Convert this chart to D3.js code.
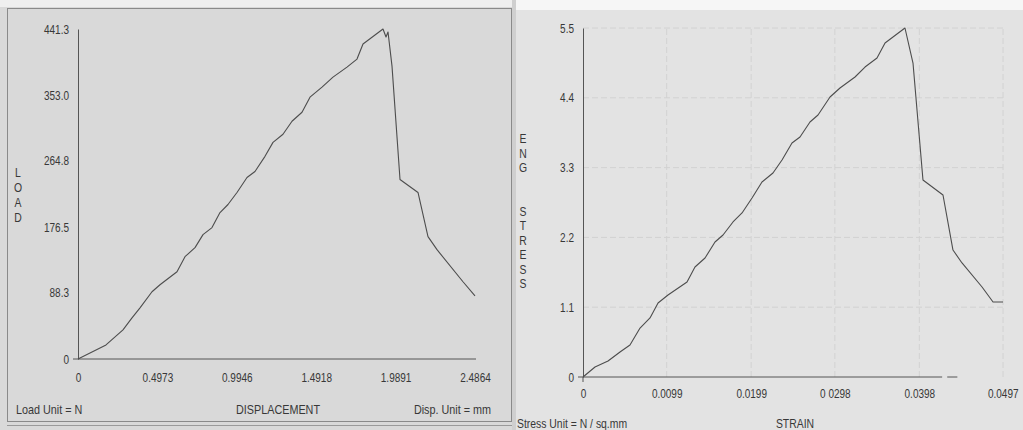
<!DOCTYPE html>
<meta charset="utf-8">
<title>Load - displacement and stress - strain</title>
<style>
    body {
        margin: 0;
        background: #e2e2e2;
    }

    svg text {
        font-family: "Liberation Sans", Arial, sans-serif;
        fill: #383838;
    }

    .curve {
        fill: none;
        stroke: #4d4d4d;
        stroke-width: 1.1;
        stroke-linejoin: round;
    }

    .axis path {
        stroke: #555;
    }

    .grid {
        stroke: #d2d2d2;
        stroke-dasharray: 6 3;
    }
</style>

<body>
    <div id="chart"></div>

    <script src="https://cdn.jsdelivr.net/npm/d3@7"></script>
    <script>
        // tick values and labels as printed on the sheet
        var dispTicks = [0, 0.4973, 0.9946, 1.4918, 1.9891, 2.4864];
        var dispLabels = ["0", "0.4973", "0.9946", "1.4918", "1.9891", "2.4864"];
        var loadTicks = [0, 88.3, 176.5, 264.8, 353.0, 441.3];
        var loadLabels = ["0", "88.3", "176.5", "264.8", "353.0", "441.3"];

        var strainTicks = [0, 0.0099, 0.0199, 0.0298, 0.0398, 0.0497];
        var strainLabels = ["0", "0.0099", "0.0199", "0 0298", "0.0398", "0.0497"];
        var stressTicks = [0, 1.1, 2.2, 3.3, 4.4, 5.5];
        var stressLabels = ["0", "1.1", "2.2", "3.3", "4.4", "5.5"];

        // load (N) vs displacement (mm)
        var displacement = [0, 0.1754, 0.2818, 0.3382, 0.3883, 0.4635, 0.5136, 0.6200, 0.6701, 0.7328,
            0.7829, 0.8392, 0.8893, 0.9394, 0.9958, 1.0584, 1.1085, 1.1712, 1.2213, 1.2839,
            1.3403, 1.4029, 1.4530, 1.5282, 1.5970, 1.6847, 1.7474, 1.7850, 1.9102, 1.9290,
            1.9416, 1.9666, 2.0167, 2.1294, 2.1920, 2.2484, 2.4112, 2.4864];
        var load = [0, 18.8, 38.9, 55.0, 68.4, 89.9, 99.3, 116.7, 136.8, 148.9,
            166.3, 175.7, 195.8, 206.6, 222.7, 242.8, 250.8, 271.0, 289.7, 300.5,
            317.9, 330.0, 350.1, 363.5, 376.9, 390.3, 401.1, 421.2, 441.3, 430.6,
            437.3, 391.7, 240.1, 222.7, 163.6, 146.2, 103.3, 84.5];

        // engineering stress (N / sq.mm) vs strain
        var strain = [0, 0.00142, 0.00296, 0.00438, 0.00556, 0.00675, 0.00793, 0.00888, 0.01006, 0.01231,
            0.01325, 0.01444, 0.01562, 0.01657, 0.01775, 0.01882, 0.02000, 0.02118, 0.02248, 0.02355,
            0.02473, 0.02568, 0.02686, 0.02781, 0.02923, 0.03041, 0.03219, 0.03337, 0.03479, 0.03574,
            0.03810, 0.03905, 0.04023, 0.04260, 0.04378, 0.04485, 0.04722, 0.04852, 0.0497];
        var stress = [0, 0.158, 0.252, 0.394, 0.504, 0.772, 0.930, 1.166, 1.292, 1.497,
            1.734, 1.875, 2.128, 2.238, 2.443, 2.585, 2.821, 3.073, 3.215, 3.420,
            3.688, 3.782, 4.019, 4.129, 4.413, 4.554, 4.728, 4.885, 5.027, 5.264,
            5.5, 4.948, 3.105, 2.868, 2.001, 1.797, 1.418, 1.182, 1.182];

        var W = 1023,
            H = 430;

        var svg = d3.select("#chart")
            .append("svg")
            .attr("width", W)
            .attr("height", H);

        // paper backgrounds
        svg.append("rect").attr("x", 0).attr("y", 0).attr("width", 515).attr("height", H).attr("fill", "#d9d9d9");
        svg.append("rect").attr("x", 0).attr("y", 0).attr("width", 515).attr("height", 7).attr("fill", "#efefef");
        svg.append("rect").attr("x", 515).attr("y", 0).attr("width", W - 515).attr("height", H).attr("fill", "#e3e3e3");
        svg.append("rect").attr("x", 515).attr("y", 0).attr("width", W - 515).attr("height", 10).attr("fill", "#f6f6f6");
        svg.append("rect").attr("x", 512).attr("y", 0).attr("width", 4).attr("height", H).attr("fill", "#cfcfcf");

        // printed frame round the left chart
        svg.append("rect")
            .attr("x", 7.5).attr("y", 8.5)
            .attr("width", 504).attr("height", 413)
            .attr("fill", "none").attr("stroke", "#8a8a8a");
        svg.append("line")
            .attr("x1", 7).attr("x2", 512).attr("y1", 425.5).attr("y2", 425.5)
            .attr("stroke", "#9a9a9a");

        // ---------- left chart: LOAD vs DISPLACEMENT ----------
        var x1 = d3.scaleLinear().domain([0, 2.4864]).range([78, 475]);
        var y1 = d3.scaleLinear().domain([0, 441.3]).range([359, 29]);

        svg.append("g")
            .attr("class", "axis")
            .attr("transform", "translate(0," + y1(0) + ")")
            .call(d3.axisBottom(x1).tickValues(dispTicks)
                .tickFormat(function(d, i) { return dispLabels[i]; })
                .tickSize(0).tickPadding(14))
            .call(function(g) {
                g.selectAll("text").style("font-size", "12.5px");
                g.select(".domain").attr("d", "M" + x1(0) + ",0H476");
            });

        svg.append("g")
            .attr("class", "axis")
            .attr("transform", "translate(" + x1(0) + ",0)")
            .call(d3.axisLeft(y1).tickValues(loadTicks)
                .tickFormat(function(d, i) { return loadLabels[i]; })
                .tickSize(0).tickPadding(9))
            .call(function(g) {
                g.selectAll("text").style("font-size", "12.5px");
            });

        // small tick at the origin
        svg.append("line")
            .attr("x1", x1(0) - 5).attr("x2", x1(0))
            .attr("y1", y1(0)).attr("y2", y1(0))
            .attr("stroke", "#555");

        var line1 = d3.line()
            .x(function(d) { return x1(d[0]); })
            .y(function(d) { return y1(d[1]); });

        svg.append("path")
            .datum(d3.zip(displacement, load))
            .attr("class", "curve")
            .attr("d", line1);

        // vertical axis title, one letter under another
        svg.append("g")
            .selectAll("text")
            .data("LOAD".split(""))
            .enter()
            .append("text")
            .attr("x", 18)
            .attr("y", function(d, i) { return 177 + i * 15; })
            .attr("text-anchor", "middle")
            .style("font-size", "13px")
            .text(function(d) { return d; });

        svg.append("text").attr("x", 16).attr("y", 414)
            .style("font-size", "13.5px").text("Load Unit = N");
        svg.append("text").attr("x", 278).attr("y", 414)
            .attr("text-anchor", "middle")
            .style("font-size", "13.5px").text("DISPLACEMENT");
        svg.append("text").attr("x", 491).attr("y", 414)
            .attr("text-anchor", "end")
            .style("font-size", "13.5px").text("Disp. Unit = mm");

        // ---------- right chart: ENG STRESS vs STRAIN ----------
        var x2 = d3.scaleLinear().domain([0, 0.0497]).range([583, 1003]);
        var y2 = d3.scaleLinear().domain([0, 5.5]).range([377, 28]);

        // faint dashed grid
        svg.append("g")
            .selectAll("line")
            .data(stressTicks.slice(1))
            .enter()
            .append("line")
            .attr("class", "grid")
            .attr("x1", x2(0)).attr("x2", x2(0.0497))
            .attr("y1", function(d) { return y2(d); })
            .attr("y2", function(d) { return y2(d); });
        svg.append("g")
            .selectAll("line")
            .data(strainTicks.slice(1))
            .enter()
            .append("line")
            .attr("class", "grid")
            .attr("y1", y2(0)).attr("y2", y2(5.5))
            .attr("x1", function(d) { return x2(d); })
            .attr("x2", function(d) { return x2(d); });

        svg.append("g")
            .attr("class", "axis")
            .attr("transform", "translate(0," + y2(0) + ")")
            .call(d3.axisBottom(x2).tickValues(strainTicks)
                .tickFormat(function(d, i) { return strainLabels[i]; })
                .tickSize(0).tickPadding(12))
            .call(function(g) {
                g.selectAll("text").style("font-size", "12.5px");
                g.select(".domain").attr("d", "M" + x2(0) + ",0H" + x2(0.0425) + "M" + x2(0.0431) + ",0H" + x2(0.0443));
                // last label sits against the photo's right edge
                g.selectAll(".tick").filter(function(d, i) { return i == strainTicks.length - 1; })
                    .select("text")
                    .attr("text-anchor", "end")
                    .attr("x", 15);
            });

        svg.append("g")
            .attr("class", "axis")
            .attr("transform", "translate(" + x2(0) + ",0)")
            .call(d3.axisLeft(y2).tickValues(stressTicks)
                .tickFormat(function(d, i) { return stressLabels[i]; })
                .tickSize(0).tickPadding(9))
            .call(function(g) {
                g.selectAll("text").style("font-size", "12.5px");
            });

        // cross tick at the origin
        svg.append("path")
            .attr("d", "M" + (x2(0) - 5) + "," + y2(0) + "H" + x2(0) + "V" + (y2(0) + 5))
            .attr("fill", "none")
            .attr("stroke", "#555");

        var line2 = d3.line()
            .x(function(d) { return x2(d[0]); })
            .y(function(d) { return y2(d[1]); });

        svg.append("path")
            .datum(d3.zip(strain, stress))
            .attr("class", "curve")
            .attr("d", line2);

        var yTitle = ["E", "N", "G", "", "", "S", "T", "R", "E", "S", "S"];
        svg.append("g")
            .selectAll("text")
            .data(yTitle)
            .enter()
            .append("text")
            .attr("x", 523)
            .attr("y", function(d, i) { return 143 + i * 14.5; })
            .attr("text-anchor", "middle")
            .style("font-size", "13px")
            .text(function(d) { return d; });

        svg.append("text").attr("x", 517).attr("y", 428)
            .style("font-size", "13px").text("Stress Unit = N / sq.mm");
        svg.append("text").attr("x", 795).attr("y", 428)
            .attr("text-anchor", "middle")
            .style("font-size", "13px").text("STRAIN");

        // the printer's font is a narrow one: squeeze every label sideways
        svg.selectAll("text").each(function() {
            var len = this.getComputedTextLength();
            if (len > 0) {
                d3.select(this)
                    .attr("textLength", len * 0.8)
                    .attr("lengthAdjust", "spacingAndGlyphs");
            }
        });
    </script>
</body>
